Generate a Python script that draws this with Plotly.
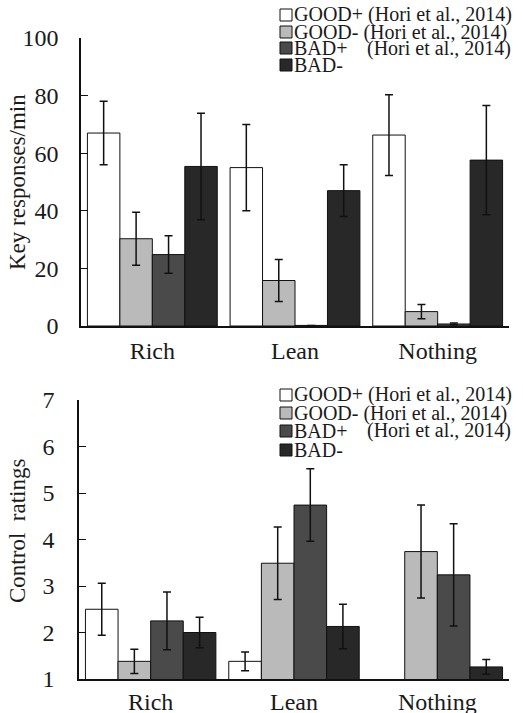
import plotly.graph_objects as go

categories = ["Rich", "Lean", "Nothing"]
series_names = ["GOOD+", "GOOD-", "BAD+", "BAD-"]
legend_refs = ["(Hori et al., 2014)", "(Hori et al., 2014)", "(Hori et al., 2014)", ""]

# Top panel: key responses/min
resp_good_plus = [67.0, 55.0, 66.3]
resp_good_plus_err = [11.0, 15.0, 14.0]
resp_good_minus = [30.3, 15.8, 5.0]
resp_good_minus_err = [9.2, 7.3, 2.5]
resp_bad_plus = [24.8, 0.2, 0.7]
resp_bad_plus_err = [6.5, 0.0, 0.3]
resp_bad_minus = [55.4, 47.0, 57.6]
resp_bad_minus_err = [18.5, 9.0, 19.0]

# Bottom panel: control ratings
ctrl_good_plus = [2.50, 1.38, None]
ctrl_good_plus_err = [0.56, 0.20, None]
ctrl_good_minus = [1.38, 3.49, 3.74]
ctrl_good_minus_err = [0.26, 0.78, 1.00]
ctrl_bad_plus = [2.25, 4.74, 3.24]
ctrl_bad_plus_err = [0.62, 0.78, 1.10]
ctrl_bad_minus = [2.00, 2.13, 1.26]
ctrl_bad_minus_err = [0.33, 0.48, 0.16]

y_top_ticks = [0, 20, 40, 60, 80, 100]
y_bot_ticks = [1, 2, 3, 4, 5, 6, 7]

colors = ["#ffffff", "#bababa", "#4a4a4a", "#282828"]
FONT = "Liberation Serif"
TXT = "#1a1a1a"
W, H = 523, 713

fig = go.Figure()

top_vals = [resp_good_plus, resp_good_minus, resp_bad_plus, resp_bad_minus]
top_errs = [resp_good_plus_err, resp_good_minus_err, resp_bad_plus_err, resp_bad_minus_err]
bot_vals = [ctrl_good_plus, ctrl_good_minus, ctrl_bad_plus, ctrl_bad_minus]
bot_errs = [ctrl_good_plus_err, ctrl_good_minus_err, ctrl_bad_plus_err, ctrl_bad_minus_err]

for i, name in enumerate(series_names):
    fig.add_trace(go.Bar(
        x=categories, y=top_vals[i], name=name, xaxis="x", yaxis="y",
        marker=dict(color=colors[i], line=dict(color="#111111", width=1)),
        error_y=dict(type="data", array=top_errs[i], color="#111111", thickness=1.5, width=4),
        showlegend=False))
    fig.add_trace(go.Bar(
        x=categories, y=bot_vals[i], name=name, xaxis="x2", yaxis="y2",
        marker=dict(color=colors[i], line=dict(color="#111111", width=1)),
        error_y=dict(type="data", array=bot_errs[i], color="#111111", thickness=1.5, width=4),
        showlegend=False))

axis_common = dict(showgrid=False, zeroline=False, showline=True, linecolor="#111111",
                   linewidth=1.5, automargin=False,
                   tickfont=dict(family=FONT, size=24, color=TXT))

fig.update_layout(
    width=W, height=H, margin=dict(l=0, r=0, t=0, b=0, pad=0, autoexpand=False),
    paper_bgcolor="white", plot_bgcolor="white",
    barmode="group", bargap=0.09, bargroupgap=0,
    xaxis=dict(domain=[81 / W, 509 / W], anchor="y", ticks="", ticklabelstandoff=2, **axis_common),
    yaxis=dict(domain=[1 - 326 / H, 1 - 38 / H], anchor="x", range=[0, 100], tickvals=y_top_ticks,
               ticks="inside", ticklen=7, tickcolor="#111111", ticklabelstandoff=16, **axis_common),
    xaxis2=dict(domain=[79 / W, 509 / W], anchor="y2", ticks="", ticklabelstandoff=0, **axis_common),
    yaxis2=dict(domain=[1 - 679 / H, 1 - 400 / H], anchor="x2", range=[1, 7], tickvals=y_bot_ticks,
                ticks="inside", ticklen=7, tickcolor="#111111", ticklabelstandoff=18, **axis_common),
)

annotations = []
shapes = []
# axis titles
annotations.append(dict(text="Key responses/min", x=18 / W, y=1 - 182 / H, xref="paper", yref="paper",
                        textangle=-90, showarrow=False, xanchor="center", yanchor="middle",
                        font=dict(family=FONT, size=23, color=TXT)))
annotations.append(dict(text="Control&nbsp;&nbsp;ratings", x=17 / W, y=1 - 531 / H, xref="paper", yref="paper",
                        textangle=-90, showarrow=False, xanchor="center", yanchor="middle",
                        font=dict(family=FONT, size=23, color=TXT)))

# legends (custom, to reproduce tight line spacing)
legend_rows = {"top": [15, 32, 48, 65], "bottom": [395, 413, 431, 450]}
for panel, rows in legend_rows.items():
    for i, yc in enumerate(rows):
        shapes.append(dict(type="rect", xref="paper", yref="paper",
                           x0=280 / W, x1=292 / W, y0=1 - (yc + 6) / H, y1=1 - (yc - 6) / H,
                           fillcolor=colors[i], line=dict(color="#111111", width=1)))
        if series_names[i] == "BAD+":
            annotations.append(dict(text=series_names[i], x=293 / W, y=1 - yc / H, xref="paper", yref="paper",
                                    showarrow=False, xanchor="left", yanchor="middle", borderpad=0,
                                    font=dict(family=FONT, size=20, color=TXT)))
            annotations.append(dict(text=legend_refs[i], x=366 / W, y=1 - yc / H, xref="paper", yref="paper",
                                    showarrow=False, xanchor="left", yanchor="middle", borderpad=0,
                                    font=dict(family=FONT, size=20, color=TXT)))
        else:
            label = series_names[i] + (" " + legend_refs[i] if legend_refs[i] else "")
            annotations.append(dict(text=label, x=293 / W, y=1 - yc / H, xref="paper", yref="paper",
                                    showarrow=False, xanchor="left", yanchor="middle", borderpad=0,
                                    font=dict(family=FONT, size=20, color=TXT)))

fig.update_layout(annotations=annotations, shapes=shapes)
fig.write_html("out.html", config={"displayModeBar": False},
               post_script="document.body.style.margin='0';document.body.style.overflow='hidden';")
